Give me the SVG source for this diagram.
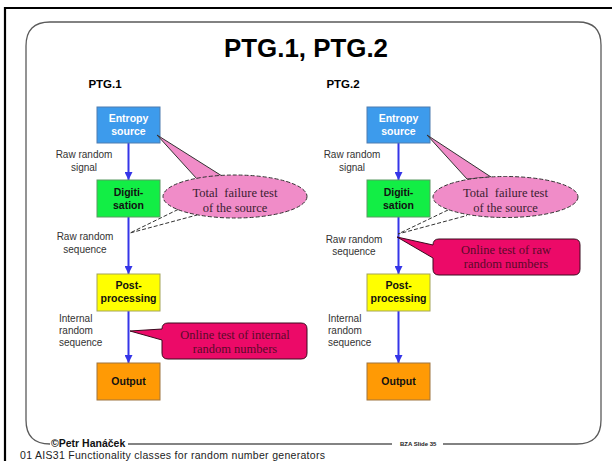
<svg xmlns="http://www.w3.org/2000/svg" width="612" height="461" viewBox="0 0 612 461">
  <defs>
    <marker id="arrow" viewBox="0 0 8 8" refX="8" refY="4" markerWidth="8" markerHeight="8" markerUnits="userSpaceOnUse" orient="auto">
      <path d="M0,0 L8,4 L0,8 Z" fill="#3535E8"/>
    </marker>
    <style>
      .title { font-family: "Liberation Sans", Arial, sans-serif; font-weight: bold; fill: #000; }
      .box { stroke-width: 1; }
      .btxt { font-family: "Liberation Sans", Arial, sans-serif; font-weight: bold; font-size: 10.5px; text-anchor: middle; }
      .lbl { font-family: "Liberation Sans", Arial, sans-serif; font-size: 10px; fill: #333; }
      .flow { stroke: #3535E8; stroke-width: 2; fill: none; marker-end: url(#arrow); }
      .ell { fill: #F08CC8; stroke: #333; stroke-width: 1; }
      .ellptr { fill: #F08CC8; stroke: #333; stroke-width: 1; stroke-linejoin: round; }
      .dash { fill: none; stroke: #333; stroke-width: 1; stroke-dasharray: 4 2; }
      .ctxt { font-family: "Liberation Serif", "Times New Roman", serif; font-size: 12.5px; text-anchor: middle; }
      .call { fill: #EC0A68; stroke: #3A0A1E; stroke-width: 1; stroke-linejoin: round; }
    </style>
  </defs>

  <rect width="612" height="461" fill="#fff"/>

  <!-- slide frame -->
  <g id="frame">
    <path d="M5,461 V8 H612" fill="none" stroke="#000" stroke-width="2.2"/>
    <path d="M443,444 H577 Q601,444 601,420 V45 Q601,22 578,22 H50 Q26,22 26,46 V420 Q26,444 50,444" fill="none" stroke="#5a5a5a" stroke-width="1.3"/>
    <path d="M128,444 H392" fill="none" stroke="#5a5a5a" stroke-width="1.3"/>
  </g>

  <text class="title" x="306" y="57" font-size="26" text-anchor="middle" textLength="164" lengthAdjust="spacingAndGlyphs">PTG.1, PTG.2</text>
  <text class="title" x="105" y="88" font-size="11.5" text-anchor="middle">PTG.1</text>
  <text class="title" x="343" y="88" font-size="11.5" text-anchor="middle">PTG.2</text>

  <!-- connectors -->
  <g id="connectors">
    <line class="flow" x1="128.5" y1="143" x2="128.5" y2="180"/>
    <line class="flow" x1="128.5" y1="217" x2="128.5" y2="274"/>
    <line class="flow" x1="128.5" y1="311" x2="128.5" y2="363"/>
    <line class="flow" x1="398.5" y1="143" x2="398.5" y2="180"/>
    <line class="flow" x1="398.5" y1="217" x2="398.5" y2="274"/>
    <line class="flow" x1="398.5" y1="311" x2="398.5" y2="363"/>
  </g>

  <!-- PTG.1 column -->
  <g id="ptg1-entropy">
    <rect class="box" x="97" y="107" width="63" height="36" fill="#3D9BEC" stroke="#4F7DB0"/>
    <text class="btxt" x="128.5" y="122" fill="#fff">Entropy</text>
    <text class="btxt" x="128.5" y="135" fill="#fff">source</text>
  </g>
  <g id="ptg1-digitisation">
    <rect class="box" x="97" y="180" width="63" height="37" fill="#12EE45" stroke="#5B9A63"/>
    <text class="btxt" x="128.5" y="196" fill="#111">Digiti-</text>
    <text class="btxt" x="128.5" y="209" fill="#111">sation</text>
  </g>
  <g id="ptg1-postprocessing">
    <rect class="box" x="97" y="274" width="63" height="37" fill="#FFFF00" stroke="#A3A35A"/>
    <text class="btxt" x="128.5" y="289" fill="#111">Post-</text>
    <text class="btxt" x="128.5" y="302" fill="#111">processing</text>
  </g>
  <g id="ptg1-output">
    <rect class="box" x="97" y="363" width="63" height="37" fill="#FF9A05" stroke="#9E7440"/>
    <text class="btxt" x="128.5" y="385" fill="#111">Output</text>
  </g>
  <g id="ptg1-labels">
    <text class="lbl" x="84" y="158" text-anchor="middle">Raw random</text>
    <text class="lbl" x="84" y="171" text-anchor="middle">signal</text>
    <text class="lbl" x="85" y="240" text-anchor="middle">Raw random</text>
    <text class="lbl" x="85" y="253" text-anchor="middle">sequence</text>
    <text class="lbl" x="59" y="322">Internal</text>
    <text class="lbl" x="59" y="334">random</text>
    <text class="lbl" x="59" y="346">sequence</text>
  </g>
  <g id="ptg1-total-failure">
    <polygon class="ellptr" points="157,135 197,179 222,176"/>
    <ellipse class="ell" cx="235" cy="196.5" rx="72" ry="21.5" stroke-dasharray="4 2"/>
    <polyline class="dash" points="178,209.5 130,233 197,215"/>
    <text class="ctxt" x="235" y="197" fill="#3A2030" xml:space="preserve">Total  failure test</text>
    <text class="ctxt" x="235" y="212" fill="#3A2030">of the source</text>
  </g>
  <g id="ptg1-online-internal">
    <path class="call" d="M162,329 L130,331 L162,340 V353 Q162,359 168,359 H301 Q307,359 307,353 V329 Q307,323 301,323 H168 Q162,323 162,329 Z"/>
    <text class="ctxt" x="235" y="339" fill="#5A0A2A">Online test of internal</text>
    <text class="ctxt" x="235" y="353" fill="#5A0A2A">random numbers</text>
  </g>

  <!-- PTG.2 column -->
  <g id="ptg2-entropy">
    <rect class="box" x="367" y="107" width="63" height="36" fill="#3D9BEC" stroke="#4F7DB0"/>
    <text class="btxt" x="398.5" y="122" fill="#fff">Entropy</text>
    <text class="btxt" x="398.5" y="135" fill="#fff">source</text>
  </g>
  <g id="ptg2-digitisation">
    <rect class="box" x="367" y="180" width="63" height="37" fill="#12EE45" stroke="#5B9A63"/>
    <text class="btxt" x="398.5" y="196" fill="#111">Digiti-</text>
    <text class="btxt" x="398.5" y="209" fill="#111">sation</text>
  </g>
  <g id="ptg2-postprocessing">
    <rect class="box" x="367" y="274" width="63" height="37" fill="#FFFF00" stroke="#A3A35A"/>
    <text class="btxt" x="398.5" y="289" fill="#111">Post-</text>
    <text class="btxt" x="398.5" y="302" fill="#111">processing</text>
  </g>
  <g id="ptg2-output">
    <rect class="box" x="367" y="363" width="63" height="37" fill="#FF9A05" stroke="#9E7440"/>
    <text class="btxt" x="398.5" y="385" fill="#111">Output</text>
  </g>
  <g id="ptg2-labels">
    <text class="lbl" x="352" y="158" text-anchor="middle">Raw random</text>
    <text class="lbl" x="352" y="171" text-anchor="middle">signal</text>
    <text class="lbl" x="354" y="243" text-anchor="middle">Raw random</text>
    <text class="lbl" x="354" y="255" text-anchor="middle">sequence</text>
    <text class="lbl" x="328" y="322">Internal</text>
    <text class="lbl" x="328" y="334">random</text>
    <text class="lbl" x="328" y="346">sequence</text>
  </g>
  <g id="ptg2-total-failure">
    <polygon class="ellptr" points="427,135 467,179 491,177"/>
    <ellipse class="ell" cx="505.5" cy="197" rx="72.5" ry="20.5" stroke-dasharray="4 2"/>
    <polyline class="dash" points="448,210 398,234 467,215.5"/>
    <text class="ctxt" x="505.5" y="197" fill="#3A2030" xml:space="preserve">Total  failure test</text>
    <text class="ctxt" x="505.5" y="212" fill="#3A2030">of the source</text>
  </g>
  <g id="ptg2-online-raw">
    <path class="call" d="M433,245 L397,237 L433,258 V269 Q433,275 439,275 H574 Q580,275 580,269 V245 Q580,239 574,239 H439 Q433,239 433,245 Z"/>
    <text class="ctxt" x="506" y="254" fill="#5A0A2A">Online test of raw</text>
    <text class="ctxt" x="506" y="268" fill="#5A0A2A">random numbers</text>
  </g>

  <!-- footer -->
  <g id="footer">
    <text x="20" y="458.5" font-family="Liberation Sans, Arial, sans-serif" font-size="10.5" fill="#222" textLength="305" lengthAdjust="spacing">01 AIS31 Functionality classes for random number generators</text>
    <text x="51" y="447" font-family="Liberation Sans, Arial, sans-serif" font-size="10.5" font-weight="bold" fill="#111">©Petr Hanáček</text>
    <text x="400" y="446" font-family="Liberation Sans, Arial, sans-serif" font-size="6" font-weight="bold" fill="#222">BZA Slide 35</text>
  </g>
</svg>
